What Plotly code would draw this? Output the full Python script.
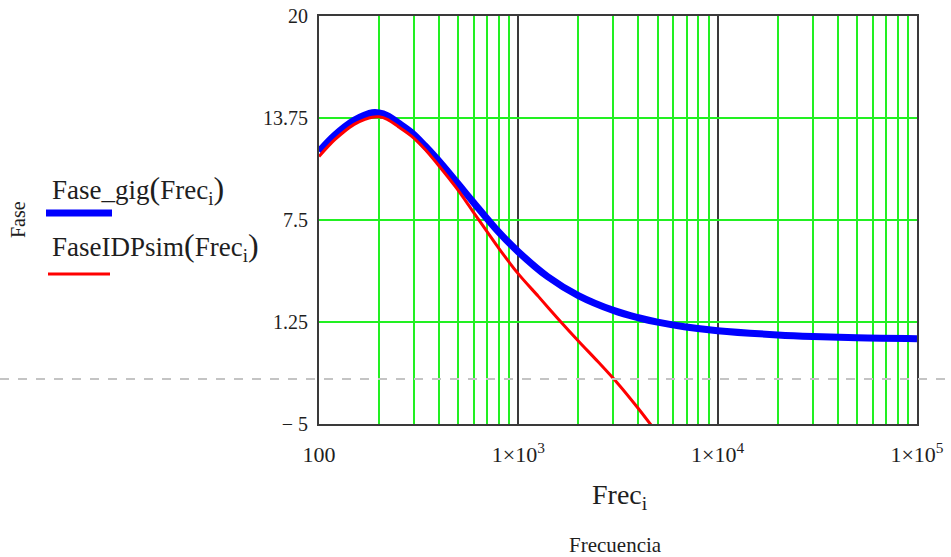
import plotly.graph_objects as go

# Frequency sweep (Hz) and phase readings for each model
freq_gig = [100, 120, 150, 170, 185, 200, 220, 250, 290, 340, 390, 490, 590,
            800, 1000, 1400, 2000, 3000, 4000, 5000, 6800, 10000, 20000,
            30000, 50000, 100000]
fase_gig = [11.70, 12.70, 13.61, 13.93, 14.07, 14.06, 13.90, 13.45, 12.88,
            12.05, 11.26, 9.83, 8.64, 6.74, 5.55, 4.04, 2.87, 1.96, 1.51,
            1.24, 0.96, 0.72, 0.46, 0.36, 0.28, 0.23]

freq_idp = [100, 120, 150, 170, 185, 200, 220, 250, 290, 340, 390, 490, 590,
            800, 1000, 1260, 1585, 2000, 2512, 3162, 3981, 5012]
fase_idp = [11.39, 12.42, 13.36, 13.67, 13.80, 13.82, 13.67, 13.22, 12.66,
            11.84, 10.98, 9.45, 8.05, 5.75, 4.20, 2.82, 1.44, 0.09, -1.19,
            -2.53, -4.02, -5.61]

y_ticks = [-5, 1.25, 7.5, 13.75, 20]
y_ticktext = ["\u2212 5", "1.25", "7.5", "13.75", "20"]
x_ticks = [100, 1000, 10000, 100000]
x_ticktext = ["100", "1\u00d710<sup>3</sup>", "1\u00d710<sup>4</sup>",
              "1\u00d710<sup>5</sup>"]
x_minor = [m * d for d in (100, 1000, 10000) for m in range(2, 10)]

SERIF = "Liberation Serif"
GREEN = "#22f022"
DARK = "#3a3a3a"
INK = "#1e1e1e"

fig = go.Figure()
fig.add_trace(go.Scatter(x=freq_gig, y=fase_gig, mode="lines",
                         line=dict(color="#0000ff", width=7, shape="spline",
                                   smoothing=1.0),
                         showlegend=False))
fig.add_trace(go.Scatter(x=freq_idp, y=fase_idp, mode="lines",
                         line=dict(color="#ff0000", width=3, shape="spline",
                                   smoothing=0.8),
                         showlegend=False))

fig.update_layout(
    width=951, height=557,
    margin=dict(l=319, r=34, t=16, b=133),
    paper_bgcolor="white", plot_bgcolor="white",
    font=dict(family=SERIF, color=INK),
    xaxis=dict(type="log", range=[2, 5], automargin=False,
               tickvals=x_ticks, ticktext=x_ticktext,
               tickfont=dict(family=SERIF, size=22, color=INK),
               ticks="", ticklabelstandoff=10,
               showgrid=True, gridcolor=DARK, gridwidth=2,
               minor=dict(tickvals=x_minor, showgrid=True,
                          gridcolor=GREEN, gridwidth=1.5, ticks=""),
               showline=True, linecolor=DARK, linewidth=2, mirror=True,
               zeroline=False),
    yaxis=dict(range=[-5, 20], automargin=False,
               tickvals=y_ticks, ticktext=y_ticktext,
               tickfont=dict(family=SERIF, size=20, color=INK),
               ticks="", ticklabelstandoff=5,
               showgrid=True, gridcolor=GREEN, gridwidth=1.5,
               showline=True, linecolor=DARK, linewidth=2, mirror=True,
               zeroline=False),
)

# paper coordinates for the plot box (319..917 x 16..424 px)
def px(x):
    return (x - 319) / 598.0

def py(y):
    return (424 - y) / 408.0

def label(x, y, text, size, **kw):
    fig.add_annotation(xref="paper", yref="paper", x=px(x), y=py(y),
                       xanchor=kw.pop("xanchor", "center"), yanchor="middle",
                       showarrow=False, text=text,
                       font=dict(family=SERIF, size=size, color=INK), **kw)

def paren(s):
    return '<span style="font-size:32px">' + s + '</span>'

# page-break style dashed rule across the sheet
fig.add_shape(type="line", xref="paper", yref="paper",
              x0=px(0), x1=px(951), y0=py(379), y1=py(379),
              line=dict(color="#c4c4c4", width=2, dash="dash"), layer="above")

# legend entries
label(50, 189, "Fase_gig" + paren("(") + "Frec<sub>i</sub>" + paren(")"), 27,
      xanchor="left")
fig.add_shape(type="line", xref="paper", yref="paper",
              x0=px(46), x1=px(112), y0=py(213), y1=py(213),
              line=dict(color="#0000ff", width=7))
label(50, 246, "FaseIDPsim" + paren("(") + "Frec<sub>i</sub>" + paren(")"), 27,
      xanchor="left")
fig.add_shape(type="line", xref="paper", yref="paper",
              x0=px(48), x1=px(110), y0=py(274), y1=py(274),
              line=dict(color="#ff0000", width=3))

# axis titles
label(18, 220, "Fase", 20, textangle=-90)
label(620, 496, "Frec<sub>i</sub>", 28)
label(615, 545, "Frecuencia", 21)

fig.write_html("out.html")
